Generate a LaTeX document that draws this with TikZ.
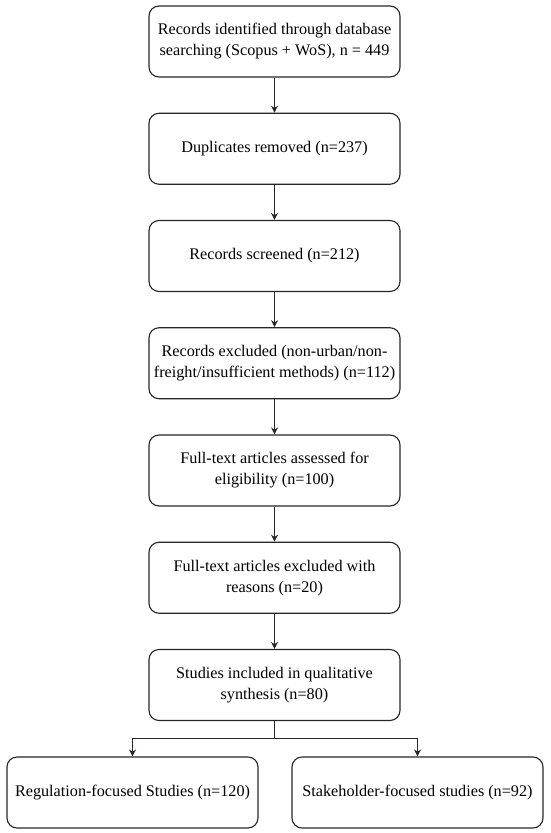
\documentclass[tikz,border=0pt]{standalone}
\usepackage{fontspec}
\setmainfont{Liberation Serif}
\usetikzlibrary{arrows.meta}
\begin{document}
\begin{tikzpicture}[x=1pt,y=1pt,
  box/.style={draw=black!85, line width=1.1pt, rounded corners=10pt, minimum width=251pt, minimum height=71pt, inner sep=0pt, align=center, font=\fontsize{16.2pt}{21pt}\selectfont},
  arr/.style={draw=black!85, line width=1pt, -{Stealth[length=7pt,width=7pt]}},
  ln/.style={draw=black!85, line width=1pt}]
\useasboundingbox (0,0) rectangle (550,-833);
\node[box] (b1) at (274.5,-41.5) {Records identified through database\\searching (Scopus + WoS), n = 449};
\node[box] (b2) at (274.5,-148.75) {Duplicates removed (n=237)};
\node[box] (b3) at (274.5,-256) {Records screened (n=212)};
\node[box] (b4) at (274.5,-363.25) {Records excluded (non-urban/non-\\freight/insufficient methods) (n=112)};
\node[box] (b5) at (274.5,-470.5) {Full-text articles assessed for\\eligibility (n=100)};
\node[box] (b6) at (274.5,-577.75) {Full-text articles excluded with\\reasons (n=20)};
\node[box] (b7) at (274.5,-685) {Studies included in qualitative\\synthesis (n=80)};
\node[box] (b8) at (132.5,-792.5) {Regulation-focused Studies (n=120)};
\node[box] (b9) at (417.5,-792.5) {Stakeholder-focused studies (n=92)};
\draw[arr] (b1) -- (b2);
\draw[arr] (b2) -- (b3);
\draw[arr] (b3) -- (b4);
\draw[arr] (b4) -- (b5);
\draw[arr] (b5) -- (b6);
\draw[arr] (b6) -- (b7);
\coordinate (split) at (274.5,-738);
\draw[ln] (b7.south) -- (split);
\draw[arr] (split) -| (b8.north);
\draw[arr] (split) -| (b9.north);
\end{tikzpicture}
\end{document}
